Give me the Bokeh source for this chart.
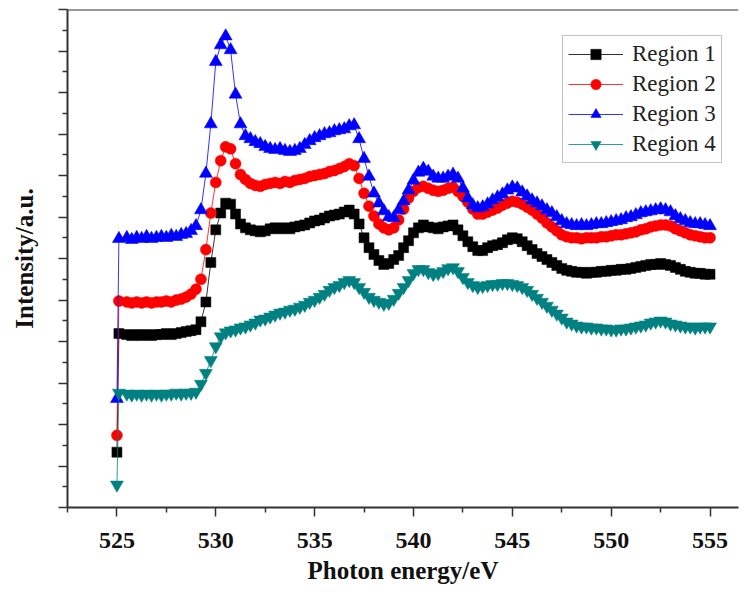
import numpy as np
from bokeh.plotting import figure
from bokeh.models import Range1d, FixedTicker, Span, Legend, LegendItem
from bokeh.embed import file_html
from bokeh.resources import INLINE

# Photon energy grid (eV)
ENERGY = np.concatenate([[525.0, 525.1], np.arange(525.5, 555.01, 0.25)])

# Intensities (a.u.)
REGION1 = [56, 176, 175, 174,
           175, 174, 175, 174,
           175, 175, 176, 175,
           176, 177, 178, 179,
           180, 188, 208, 248,
           281, 298, 308, 307,
           297, 287, 283, 281,
           280, 279, 280, 282,
           283, 282, 283, 282,
           284, 285, 286, 288,
           290, 291, 293, 295,
           296, 297, 299, 301,
           297, 287, 273, 263,
           256, 250, 246, 247,
           251, 255, 263, 270,
           278, 283, 286, 284,
           283, 282, 284, 285,
           286, 281, 275, 269,
           264, 260, 260, 263,
           265, 266, 268, 271,
           273, 272, 269, 265,
           261, 257, 254, 251,
           248, 245, 242, 240,
           239, 238, 238, 237,
           238, 238, 239, 239,
           240, 240, 241, 241,
           242, 243, 244, 245,
           246, 246, 247, 246,
           245, 243, 241, 239,
           238, 237, 237, 236,
           236]

REGION2 = [73, 209, 208, 207,
           208, 207, 208, 207,
           208, 208, 209, 208,
           210, 211, 213, 216,
           221, 231, 261, 298,
           329, 351, 365, 363,
           348, 337, 332, 328,
           326, 325, 327, 328,
           329, 328, 330, 329,
           331, 332, 333, 335,
           336, 337, 338, 340,
           341, 343, 345, 348,
           346, 333, 318, 305,
           295, 287, 283, 281,
           283, 291, 302, 313,
           320, 324, 325, 323,
           321, 320, 321, 323,
           324, 320, 315, 309,
           302, 297, 297, 299,
           301, 303, 306, 308,
           310, 309, 307, 304,
           301, 297, 293, 288,
           284, 280, 276, 274,
           273, 273, 272, 273,
           273, 273, 274, 274,
           275, 276, 276, 277,
           278, 279, 281, 282,
           284, 285, 286, 286,
           285, 282, 280, 278,
           276, 275, 274, 273,
           273]

REGION3 = [110, 272, 273, 271,
           273, 272, 274, 272,
           273, 274, 273, 275,
           274, 276, 277, 280,
           285, 301, 338, 388,
           451, 468, 477, 463,
           418, 388, 376, 373,
           370, 368, 365, 363,
           362, 363, 361, 360,
           361, 363, 367, 371,
           374, 376, 378, 379,
           381, 382, 383, 386,
           387, 373, 353, 335,
           318, 308, 300, 294,
           293, 301, 310, 321,
           331, 339, 343, 340,
           335, 333, 333, 335,
           337, 333, 323, 313,
           306, 303, 304, 307,
           311, 314, 317, 321,
           324, 323, 319, 315,
           311, 308, 305, 301,
           298, 294, 290, 287,
           286, 285, 286, 285,
           286, 287, 287, 288,
           289, 290, 291, 293,
           294, 296, 298, 299,
           300, 301, 302, 301,
           299, 295, 292, 290,
           288, 287, 287, 286,
           285]

REGION4 = [23, 116, 115, 114,
           115, 114, 115, 114,
           115, 114, 115, 115,
           116, 115, 116, 116,
           117, 125, 136, 149,
           163, 173, 177, 179,
           180, 182, 183, 185,
           187, 190, 191, 193,
           195, 197, 198, 200,
           201, 203, 205, 208,
           210, 213, 216, 220,
           223, 225, 228, 230,
           228, 223, 218, 213,
           210, 208, 206, 207,
           211, 217, 223, 230,
           237, 241, 241, 238,
           236, 237, 239, 242,
           243, 239, 233, 228,
           225, 223, 224, 225,
           226, 226, 227, 227,
           226, 225, 223, 220,
           216, 212, 208, 204,
           200, 196, 192, 188,
           186, 184, 183, 183,
           182, 182, 181, 181,
           180, 180, 181, 181,
           182, 183, 184, 185,
           187, 188, 189, 188,
           186, 185, 184, 183,
           183, 182, 183, 183,
           183]

LABELS = ["Region 1", "Region 2", "Region 3", "Region 4"]
X_TICKS = [525, 530, 535, 540, 545, 550, 555]
X_MINOR = [522.5, 527.5, 532.5, 537.5, 542.5, 547.5, 552.5]
Y_MAJOR = list(range(0, 505, 42))
Y_MINOR = list(range(21, 505, 42))

SERIES = [REGION1, REGION2, REGION3, REGION4]
COLORS = ["#000000", "#ff0000", "#0000ff", "#008080"]
MARKERS = ["square", "circle", "triangle", "inverted_triangle"]
SIZES = [10, 11, 13, 13]

FONT = "Liberation Serif"

p = figure(width=739, height=591, output_backend="svg", toolbar_location=None,
           x_range=Range1d(522.5, 556.44), y_range=Range1d(0, 504),
           min_border_left=67, min_border_right=1, min_border_top=9,
           min_border_bottom=84)
p.grid.visible = False
p.outline_line_color = None
p.background_fill_color = "white"
p.border_fill_color = "white"

items = []
for vals, col, mk, sz, lab in zip(SERIES, COLORS, MARKERS, SIZES, LABELS):
    ln = p.line(ENERGY, vals, line_color=col, line_width=1, line_alpha=0.8)
    sc = p.scatter(ENERGY, vals, marker=mk, size=sz, fill_color=col,
                   line_color=col, line_width=0.5)
    items.append(LegendItem(label=lab, renderers=[ln, sc]))

# top frame line
p.add_layout(Span(location=504, dimension="width", line_color="#333333",
                  line_width=2))

xa = p.xaxis[0]
xa.ticker = FixedTicker(ticks=X_TICKS, minor_ticks=X_MINOR)
xa.axis_label = "Photon energy/eV"
xa.axis_label_text_font = FONT
xa.axis_label_text_font_style = "bold"
xa.axis_label_text_font_size = "25px"
xa.axis_label_text_color = "#111111"
xa.axis_label_standoff = 6
xa.major_label_text_font = FONT
xa.major_label_text_font_style = "bold"
xa.major_label_text_font_size = "24px"
xa.major_label_text_color = "#111111"
xa.major_label_standoff = 16

ya = p.yaxis[0]
ya.ticker = FixedTicker(ticks=Y_MAJOR, minor_ticks=Y_MINOR)
ya.axis_label = "Intensity/a.u."
ya.axis_label_text_font = FONT
ya.axis_label_text_font_style = "bold"
ya.axis_label_text_font_size = "25px"
ya.axis_label_text_color = "#111111"
ya.axis_label_standoff = 21
ya.major_label_overrides = {v: "" for v in Y_MAJOR}
ya.major_label_standoff = 0

for ax in (xa, ya):
    ax.axis_line_color = "#333333"
    ax.axis_line_width = 2
    ax.major_tick_line_color = "#333333"
    ax.minor_tick_line_color = "#333333"
    ax.major_tick_line_width = 1.5
    ax.minor_tick_line_width = 1.5
    ax.major_tick_out = 9
    ax.major_tick_in = 0
    ax.minor_tick_out = 5
    ax.minor_tick_in = 0

legend = Legend(items=items, location=(495, 344))
legend.label_text_font = FONT
legend.label_text_font_size = "23px"
legend.label_text_color = "#222222"
legend.glyph_width = 55
legend.glyph_height = 26
legend.label_height = 26
legend.label_standoff = 9
legend.spacing = 4
legend.padding = 5
legend.margin = 0
legend.border_line_color = "#888888"
legend.border_line_width = 1.5
legend.background_fill_color = "white"
legend.background_fill_alpha = 1
p.add_layout(legend)

open("out.html", "w").write(file_html(p, INLINE))
